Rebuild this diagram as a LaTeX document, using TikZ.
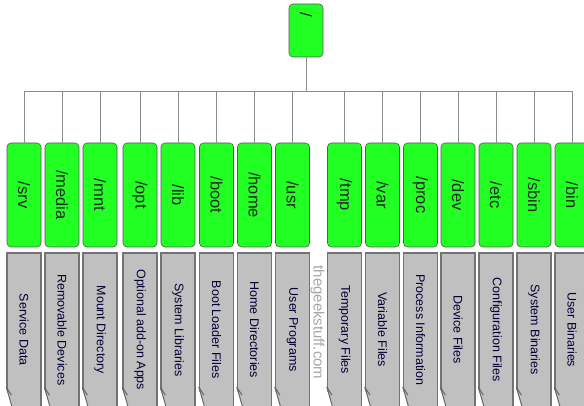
\documentclass[tikz,border=0pt]{standalone}
\usepackage{fontspec}
\setmainfont{Liberation Sans}
\usetikzlibrary{calc}
\definecolor{dirgreen}{RGB}{34,255,34}
\definecolor{infogray}{RGB}{192,192,192}
\def\dirname#1{\rotatebox{-90}{\fontsize{16.5}{18}\selectfont #1}}
\def\dirinfo#1{\rotatebox{-90}{\fontsize{12.5}{14}\selectfont #1}}
\def\foldcorner#1{%
	\fill[white] ([xshift=-1pt,yshift=20pt]#1.south west) -- ([xshift=-1pt,yshift=-2pt]#1.south west) -- ([xshift=7pt,yshift=-2pt]#1.south west) -- cycle;
	\draw[infoedge] ([yshift=20pt]#1.south west) -- ([xshift=6pt,yshift=-1pt]#1.south west);
	\draw[infoedge] ([yshift=20pt]#1.south west) -- ([xshift=5pt,yshift=12pt]#1.south west);}
\tikzset{
	dirbox/.style={draw=black!65, line width=0.6pt, fill=dirgreen, rounded corners=4pt, minimum width=34pt, minimum height=104pt, inner sep=0pt, text=black!85},
	infobox/.style={draw=black!55, line width=1.2pt, fill=infogray, minimum width=34pt, minimum height=153.5pt, inner sep=0pt, text=black!80!blue},
	infoedge/.style={draw=black!60, line width=1pt},
	branch/.style={draw=black!45, line width=0.8pt}
}

\begin{document}
\begin{tikzpicture}[x=1pt, y=-1pt]
		%%%%% START %%%%%
		\useasboundingbox (0, 0) rectangle (584, 406);
		
		\node[dirbox, minimum height=53pt, inner ysep=9pt, text depth=35pt] (root) at (306, 30.5) {\dirname{/}};
		\coordinate (bus) at (0, 91);
		
		\node[dirbox] (srv) at (24, 195) {\dirname{/srv}};
		\node[dirbox] (media) at (62, 195) {\dirname{/media}};
		\node[dirbox] (mnt) at (100, 195) {\dirname{/mnt}};
		\node[dirbox] (opt) at (140, 195) {\dirname{/opt}};
		\node[dirbox] (lib) at (178, 195) {\dirname{/lib}};
		\node[dirbox] (boot) at (216.5, 195) {\dirname{/boot}};
		\node[dirbox] (home) at (254.5, 195) {\dirname{/home}};
		\node[dirbox] (usr) at (292.5, 195) {\dirname{/usr}};
		\node[dirbox] (tmp) at (344.5, 195) {\dirname{/tmp}};
		\node[dirbox] (var) at (382.5, 195) {\dirname{/var}};
		\node[dirbox] (proc) at (420.5, 195) {\dirname{/proc}};
		\node[dirbox] (dev) at (458, 195) {\dirname{/dev}};
		\node[dirbox] (etc) at (496, 195) {\dirname{/etc}};
		\node[dirbox] (sbin) at (534, 195) {\dirname{/sbin}};
		\node[dirbox] (bin) at (572, 195) {\dirname{/bin}};
		
		\draw[branch] (root.south) -- (root.south |- bus) -| (srv.north);
		\draw[branch] (root.south) -- (root.south |- bus) -| (media.north);
		\draw[branch] (root.south) -- (root.south |- bus) -| (mnt.north);
		\draw[branch] (root.south) -- (root.south |- bus) -| (opt.north);
		\draw[branch] (root.south) -- (root.south |- bus) -| (lib.north);
		\draw[branch] (root.south) -- (root.south |- bus) -| (boot.north);
		\draw[branch] (root.south) -- (root.south |- bus) -| (home.north);
		\draw[branch] (root.south) -- (root.south |- bus) -| (usr.north);
		\draw[branch] (root.south) -- (root.south |- bus) -| (tmp.north);
		\draw[branch] (root.south) -- (root.south |- bus) -| (var.north);
		\draw[branch] (root.south) -- (root.south |- bus) -| (proc.north);
		\draw[branch] (root.south) -- (root.south |- bus) -| (dev.north);
		\draw[branch] (root.south) -- (root.south |- bus) -| (etc.north);
		\draw[branch] (root.south) -- (root.south |- bus) -| (sbin.north);
		\draw[branch] (root.south) -- (root.south |- bus) -| (bin.north);
		
		\node[infobox] (srvinfo) at (24, 329.75) {\dirinfo{Service Data}};
		\node[infobox] (mediainfo) at (62, 329.75) {\dirinfo{Removable Devices}};
		\node[infobox] (mntinfo) at (100, 329.75) {\dirinfo{Mount Directory}};
		\node[infobox] (optinfo) at (140, 329.75) {\dirinfo{Optional add-on Apps}};
		\node[infobox] (libinfo) at (178, 329.75) {\dirinfo{System Libraries}};
		\node[infobox] (bootinfo) at (216.5, 329.75) {\dirinfo{Boot Loader Files}};
		\node[infobox] (homeinfo) at (254.5, 329.75) {\dirinfo{Home Directories}};
		\node[infobox] (usrinfo) at (292.5, 329.75) {\dirinfo{User Programs}};
		\node[infobox] (tmpinfo) at (344.5, 329.75) {\dirinfo{Temporary Files}};
		\node[infobox] (varinfo) at (382.5, 329.75) {\dirinfo{Variable Files}};
		\node[infobox] (procinfo) at (420.5, 329.75) {\dirinfo{Process Information}};
		\node[infobox] (devinfo) at (458, 329.75) {\dirinfo{Device Files}};
		\node[infobox] (etcinfo) at (496, 329.75) {\dirinfo{Configuration Files}};
		\node[infobox] (sbininfo) at (534, 329.75) {\dirinfo{System Binaries}};
		\node[infobox] (bininfo) at (572, 329.75) {\dirinfo{User Binaries}};
		
		\foldcorner{srvinfo}
		\foldcorner{mediainfo}
		\foldcorner{mntinfo}
		\foldcorner{optinfo}
		\foldcorner{libinfo}
		\foldcorner{bootinfo}
		\foldcorner{homeinfo}
		\foldcorner{usrinfo}
		\foldcorner{tmpinfo}
		\foldcorner{varinfo}
		\foldcorner{procinfo}
		\foldcorner{devinfo}
		\foldcorner{etcinfo}
		\foldcorner{sbininfo}
		\foldcorner{bininfo}
		
		\node[text=black!35, inner sep=0pt] (watermark) at (317.5, 322.5) {\rotatebox{-90}{\fontsize{15}{17}\selectfont thegeekstuff.com}};
		
		%%%%% END %%%%%
	\end{tikzpicture}
\end{document}
